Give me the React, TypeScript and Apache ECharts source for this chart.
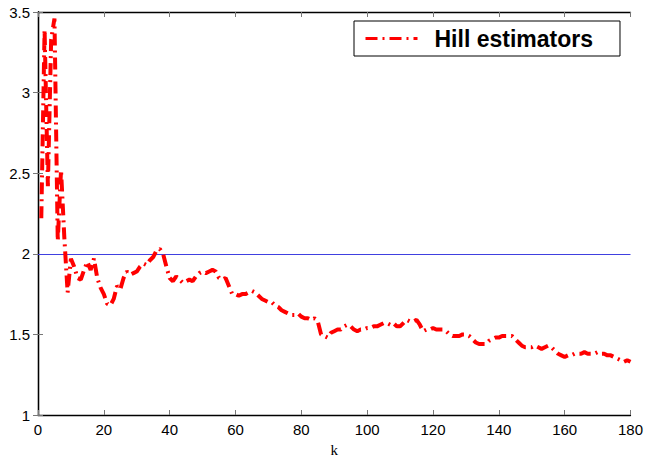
import React, { useEffect, useRef } from "react";
import * as echarts from "echarts";

const kValues: number[] = [];
for (let i = 1; i <= 180; i++) kValues.push(i);

const hillValues: number[] = [
  2.22, 3.39, 2.42, 3.33, 3.46, 2.08, 2.52, 2.10, 1.76, 1.97,
  1.92, 1.85, 1.84, 1.90, 1.95, 1.90, 1.97, 1.85, 1.79, 1.75,
  1.69, 1.68, 1.72, 1.80, 1.78, 1.85, 1.89, 1.87, 1.88, 1.89,
  1.92, 1.94, 1.93, 1.96, 1.98, 2.02, 2.03, 2.00, 1.92, 1.85,
  1.83, 1.86, 1.84, 1.82, 1.83, 1.84, 1.83, 1.86, 1.88, 1.89,
  1.88, 1.89, 1.90, 1.89, 1.85, 1.84, 1.85, 1.80, 1.75, 1.75,
  1.74, 1.75, 1.75, 1.76, 1.77, 1.76, 1.74, 1.72, 1.71, 1.70,
  1.70, 1.68, 1.67, 1.65, 1.64, 1.63, 1.62, 1.62, 1.63, 1.61,
  1.60, 1.60, 1.59, 1.60, 1.58, 1.50, 1.49, 1.48, 1.51, 1.52,
  1.53, 1.53, 1.55, 1.56, 1.55, 1.53, 1.52, 1.53, 1.53, 1.54,
  1.54, 1.55, 1.55, 1.56, 1.57, 1.57, 1.56, 1.57, 1.55, 1.55,
  1.57, 1.59, 1.58, 1.58, 1.59, 1.56, 1.52, 1.53, 1.53, 1.54,
  1.53, 1.53, 1.53, 1.52, 1.50, 1.49, 1.49, 1.49, 1.50, 1.50,
  1.49, 1.47, 1.45, 1.44, 1.44, 1.44, 1.46, 1.47, 1.48, 1.48,
  1.49, 1.49, 1.49, 1.49, 1.47, 1.45, 1.43, 1.42, 1.42, 1.42,
  1.43, 1.42, 1.41, 1.42, 1.43, 1.42, 1.40, 1.38, 1.37, 1.36,
  1.37, 1.37, 1.38, 1.38, 1.38, 1.39, 1.38, 1.38, 1.38, 1.39,
  1.38, 1.38, 1.37, 1.37, 1.36, 1.35, 1.34, 1.33, 1.34, 1.33,
];

const referenceLevel = 2;
const xTicks = { min: 0, max: 180, interval: 20 };
const yTicks = { min: 1, max: 3.5, interval: 0.5 };
const seriesName = "Hill estimators";
const xName = "k";

export default function App() {
  const ref = useRef<HTMLDivElement>(null);
  useEffect(() => {
    if (!ref.current) return;
    const chart = echarts.init(ref.current, undefined, { renderer: "svg" });
    const labelFont = { fontFamily: "Liberation Sans, Arial, sans-serif", fontSize: 15, color: "#000" };
    const tick = { show: true, inside: true, length: 5, lineStyle: { color: "#777", width: 1 } };
    const axisLine = { show: true, lineStyle: { color: "#000", width: 1.3 } };
    chart.setOption({
      animation: false,
      backgroundColor: "#fff",
      grid: { left: 38, right: 12, top: 12, bottom: 44, containLabel: false },
      legend: {
        show: true,
        data: [seriesName],
        left: 354,
        top: 21,
        padding: [6, 27, 6, 10],
        itemWidth: 52,
        itemHeight: 14,
        borderColor: "#000",
        borderWidth: 1,
        backgroundColor: "#fff",
        itemStyle: { opacity: 0 },
        lineStyle: { color: "#ff0000", width: 3, type: [12, 5, 2, 5] },
        textStyle: {
          fontFamily: "Liberation Sans, Arial, sans-serif",
          fontWeight: "bold",
          fontSize: 23,
          color: "#000",
          padding: [0, 0, 0, 12],
        },
      },
      xAxis: [
        {
          type: "value",
          min: xTicks.min,
          max: xTicks.max,
          interval: xTicks.interval,
          position: "bottom",
          name: xName,
          nameLocation: "middle",
          nameGap: 27,
          nameTextStyle: { fontFamily: "Liberation Serif, Times New Roman, serif", fontSize: 15, color: "#000" },
          axisLine,
          axisTick: tick,
          axisLabel: { ...labelFont, margin: 7 },
          splitLine: { show: false },
        },
        {
          type: "value",
          min: xTicks.min,
          max: xTicks.max,
          interval: xTicks.interval,
          position: "top",
          axisLine,
          axisTick: tick,
          axisLabel: { show: false },
          splitLine: { show: false },
        },
      ],
      yAxis: [
        {
          type: "value",
          min: yTicks.min,
          max: yTicks.max,
          interval: yTicks.interval,
          position: "left",
          axisLine,
          axisTick: tick,
          axisLabel: { ...labelFont, margin: 8 },
          splitLine: { show: false },
        },
        {
          type: "value",
          min: yTicks.min,
          max: yTicks.max,
          interval: yTicks.interval,
          position: "right",
          axisLine,
          axisTick: tick,
          axisLabel: { show: false },
          splitLine: { show: false },
        },
      ],
      series: [
        {
          name: seriesName,
          type: "line",
          xAxisIndex: 0,
          yAxisIndex: 0,
          data: kValues.map((k, i) => [k, hillValues[i]]),
          showSymbol: false,
          symbol: "none",
          itemStyle: { color: "#ff0000" },
          lineStyle: { color: "#ff0000", width: 4, type: [12, 5, 2, 5] },
          z: 3,
          markLine: {
            silent: true,
            symbol: "none",
            label: { show: false },
            lineStyle: { color: "#4040e0", width: 1.2, type: "solid" },
            data: [{ yAxis: referenceLevel }],
            z: 2,
          },
        },
      ],
    });
    return () => chart.dispose();
  }, []);
  return (
    <div
      ref={ref}
      style={{ position: "fixed", left: 0, top: 0, width: 646, height: 462 }}
    />
  );
}
